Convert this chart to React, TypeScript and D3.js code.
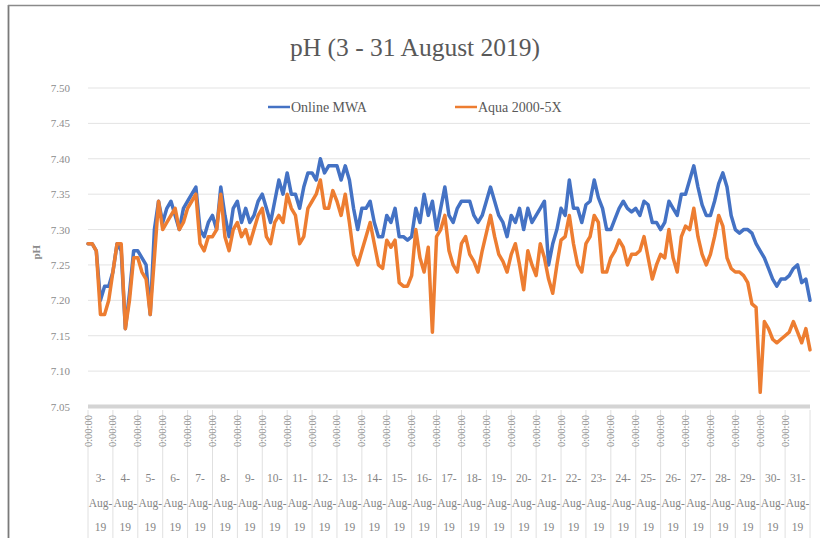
import React from "react";
import * as d3 from "d3";

// ---- data (one value every 4 hours from 3 Aug 00:00) ----
const onlineMWA: number[] = [
  7.28, 7.28, 7.27, 7.20, 7.22, 7.22,
  7.24, 7.28, 7.27, 7.16, 7.21, 7.27,
  7.27, 7.26, 7.25, 7.18, 7.30, 7.34,
  7.31, 7.33, 7.34, 7.32, 7.30, 7.33,
  7.34, 7.35, 7.36, 7.30, 7.29, 7.31,
  7.32, 7.30, 7.36, 7.32, 7.29, 7.33,
  7.34, 7.31, 7.33, 7.31, 7.32, 7.34,
  7.35, 7.33, 7.31, 7.34, 7.37, 7.35,
  7.38, 7.35, 7.35, 7.33, 7.36, 7.38,
  7.38, 7.37, 7.40, 7.38, 7.39, 7.39,
  7.39, 7.37, 7.39, 7.37, 7.33, 7.30,
  7.33, 7.33, 7.34, 7.31, 7.29, 7.29,
  7.32, 7.31, 7.33, 7.29, 7.29, 7.285,
  7.29, 7.33, 7.31, 7.35, 7.32, 7.34,
  7.30, 7.33, 7.36, 7.32, 7.31, 7.33,
  7.34, 7.34, 7.34, 7.32, 7.31, 7.32,
  7.34, 7.36, 7.34, 7.32, 7.31, 7.29,
  7.32, 7.31, 7.33, 7.30, 7.33, 7.31,
  7.32, 7.33, 7.34, 7.25, 7.28, 7.30,
  7.33, 7.32, 7.37, 7.33, 7.33, 7.31,
  7.335, 7.34, 7.37, 7.345, 7.33, 7.30,
  7.30, 7.315, 7.33, 7.34, 7.33, 7.325,
  7.33, 7.32, 7.34, 7.335, 7.31, 7.31,
  7.30, 7.31, 7.34, 7.33, 7.32, 7.35,
  7.35, 7.37, 7.39, 7.36, 7.335, 7.32,
  7.32, 7.34, 7.365, 7.38, 7.36, 7.32,
  7.30, 7.295, 7.30, 7.30, 7.295, 7.28,
  7.27, 7.26, 7.245, 7.23, 7.22, 7.23,
  7.23, 7.235, 7.245, 7.25, 7.225, 7.23, 7.20,
];

const aqua2000: number[] = [
  7.28, 7.28, 7.27, 7.18, 7.18, 7.20,
  7.24, 7.28, 7.28, 7.16, 7.20, 7.26,
  7.26, 7.24, 7.23, 7.18, 7.26, 7.34,
  7.30, 7.31, 7.32, 7.33, 7.30, 7.31,
  7.33, 7.34, 7.35, 7.28, 7.27, 7.29,
  7.29, 7.30, 7.35, 7.29, 7.27, 7.30,
  7.31, 7.29, 7.30, 7.28, 7.30, 7.32,
  7.33, 7.29, 7.28, 7.31, 7.32, 7.31,
  7.35, 7.33, 7.32, 7.28, 7.29, 7.33,
  7.34, 7.35, 7.37, 7.33, 7.33, 7.355,
  7.34, 7.32, 7.35, 7.31, 7.265, 7.25,
  7.27, 7.29, 7.31, 7.28, 7.25, 7.245,
  7.285, 7.275, 7.285, 7.225, 7.22, 7.22,
  7.235, 7.30, 7.26, 7.24, 7.275, 7.155,
  7.29, 7.30, 7.32, 7.27, 7.25, 7.24,
  7.28, 7.29, 7.265, 7.255, 7.24, 7.27,
  7.295, 7.32, 7.29, 7.265, 7.255, 7.24,
  7.265, 7.28, 7.25, 7.215, 7.27, 7.25,
  7.235, 7.28, 7.26, 7.23, 7.21, 7.25,
  7.285, 7.29, 7.32, 7.28, 7.25, 7.24,
  7.28, 7.29, 7.32, 7.31, 7.24, 7.24,
  7.26, 7.27, 7.285, 7.275, 7.25, 7.265,
  7.265, 7.27, 7.29, 7.26, 7.23, 7.25,
  7.265, 7.26, 7.30, 7.26, 7.24, 7.29,
  7.305, 7.30, 7.33, 7.29, 7.265, 7.25,
  7.265, 7.29, 7.32, 7.305, 7.26, 7.245,
  7.24, 7.24, 7.235, 7.225, 7.195, 7.19,
  7.07, 7.17, 7.16, 7.145, 7.14, 7.145,
  7.15, 7.155, 7.17, 7.155, 7.14, 7.16, 7.13,
];

const STEP_HOURS = 4;
const days: number[] = d3.range(3, 32);
const yTicks: number[] = [7.05, 7.1, 7.15, 7.2, 7.25, 7.3, 7.35, 7.4, 7.45, 7.5];
const timeLabel = "0:00:00";
const monthLabel = "Aug-";
const yearLabel = "19";
const seriesNames = ["Online MWA", "Aqua 2000-5X"];
const seriesColors = ["#4472C4", "#ED7D31"];

const FONT = "'Liberation Serif', 'Times New Roman', serif";

export default function App() {
  const W = 820;
  const H = 538;
  const left = 88;
  const right = 810;
  const top = 88;
  const bottom = 406.5;

  const start = new Date(2019, 7, 3, 0, 0, 0);
  const end = new Date(2019, 8, 1, 0, 0, 0);
  const x = d3.scaleTime().domain([start, end]).range([left, right]);
  const y = d3.scaleLinear().domain([7.05, 7.5]).range([bottom, top]);

  const timeOf = (i: number) => d3.timeHour.offset(start, i * STEP_HOURS);
  const line = d3
    .line<number>()
    .x((_, i) => x(timeOf(i)))
    .y((v) => y(v));

  const dayStart = (d: number) => new Date(2019, 7, d, 0, 0, 0);
  const dayEnd = (d: number) => new Date(2019, 7, d + 1, 0, 0, 0);

  return (
    <svg
      width={W}
      height={H}
      style={{ position: "absolute", left: 0, top: 0, background: "#fff" }}
    >
      <rect x={0} y={0} width={W} height={H} fill="#fff" />
      {/* frame */}
      <line x1={8.5} y1={5} x2={8.5} y2={H} stroke="#7a7a7a" strokeWidth={1.8} />
      <line x1={8} y1={5.5} x2={W} y2={5.5} stroke="#8a8a8a" strokeWidth={1.5} />

      {/* title */}
      <text
        x={415}
        y={56}
        textAnchor="middle"
        fontFamily={FONT}
        fontSize={25.5}
        fill="#595959"
      >
        pH (3 - 31 August 2019)
      </text>

      {/* gridlines */}
      {yTicks.slice(1).map((t) => (
        <line
          key={t}
          x1={left}
          x2={right}
          y1={y(t)}
          y2={y(t)}
          stroke="#e3e3e3"
          strokeWidth={1}
        />
      ))}

      {/* y tick labels */}
      {yTicks.map((t) => (
        <text
          key={t}
          x={70}
          y={y(t) + 4}
          textAnchor="end"
          fontFamily={FONT}
          fontSize={11}
          fill="#8c8c8c"
        >
          {t.toFixed(2)}
        </text>
      ))}

      {/* y axis title */}
      <text
        transform={`translate(40, ${(top + bottom) / 2 + 5}) rotate(-90)`}
        textAnchor="middle"
        fontFamily={FONT}
        fontSize={11}
        fontWeight="bold"
        fill="#8c8c8c"
      >
        pH
      </text>

      {/* legend */}
      <line x1={268} x2={290} y1={107} y2={107} stroke={seriesColors[0]} strokeWidth={2.5} />
      <text x={291} y={111.5} fontFamily={FONT} fontSize={14} fill="#595959">
        {seriesNames[0]}
      </text>
      <line x1={455} x2={477} y1={107} y2={107} stroke={seriesColors[1]} strokeWidth={2.5} />
      <text x={478} y={111.5} fontFamily={FONT} fontSize={14} fill="#595959">
        {seriesNames[1]}
      </text>

      {/* category separators */}
      {days.concat([32]).map((d) => (
        <line
          key={`sep${d}`}
          x1={x(dayStart(d))}
          x2={x(dayStart(d))}
          y1={410}
          y2={H}
          stroke="#e0e0e0"
          strokeWidth={1}
        />
      ))}

      {/* x axis line */}
      <line x1={left} x2={right} y1={bottom} y2={bottom} stroke="#d4d4d4" strokeWidth={4} />

      {/* series */}
      <path
        d={line(onlineMWA) || ""}
        fill="none"
        stroke={seriesColors[0]}
        strokeWidth={3.5}
        strokeLinejoin="round"
        strokeLinecap="round"
      />
      <path
        d={line(aqua2000) || ""}
        fill="none"
        stroke={seriesColors[1]}
        strokeWidth={3.5}
        strokeLinejoin="round"
        strokeLinecap="round"
      />

      {/* time labels */}
      {days.map((d) => (
        <text
          key={`t${d}`}
          transform={`translate(${x(dayStart(d)) + 3.5}, 415) rotate(-90)`}
          textAnchor="end"
          fontFamily={FONT}
          fontSize={10.5}
          fill="#8c8c8c"
        >
          {timeLabel}
        </text>
      ))}

      {/* day labels */}
      {days.map((d) => {
        const cx = (x(dayStart(d)) + x(dayEnd(d))) / 2;
        return (
          <g key={`d${d}`} fontFamily={FONT} fontSize={11.5} fill="#858585" textAnchor="middle">
            <text x={cx} y={482}>{`${d}-`}</text>
            <text x={cx} y={507}>{monthLabel}</text>
            <text x={cx} y={531}>{yearLabel}</text>
          </g>
        );
      })}
    </svg>
  );
}
